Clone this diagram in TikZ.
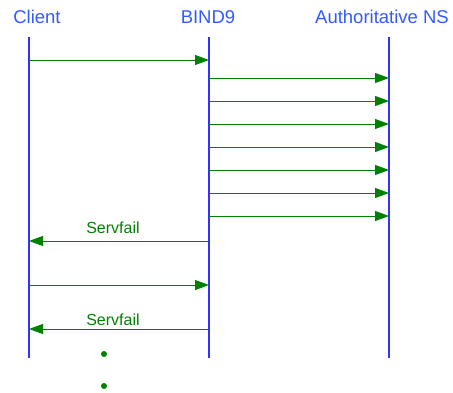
\documentclass[tikz,border=0pt]{standalone}
\usepackage{fontspec}
\setmainfont{Liberation Sans}
\usetikzlibrary{arrows.meta}
\definecolor{actorblue}{RGB}{50,90,255}
\definecolor{lifeblue}{RGB}{50,50,255}
\definecolor{msggreen}{RGB}{0,128,0}
\begin{document}
\begin{tikzpicture}[x=1pt,y=-1pt]
		\tikzstyle{actor} = [text=actorblue, font=\fontsize{18.5}{20}\selectfont, inner sep=0pt]
		\tikzstyle{life} = [draw=lifeblue, line width=1.15pt]
		\tikzstyle{msg} = [draw=msggreen, line width=1pt, -{Triangle[length=14pt,width=10pt]}]
		\tikzstyle{reply} = [text=msggreen, font=\fontsize{16}{18}\selectfont, inner sep=0pt]
		\useasboundingbox (0,0) rectangle (453,392);

		\node [actor] (client) at (37,17) {Client};
		\node [actor] (bind) at (208,17) {BIND9};
		\node [actor] (auth) at (382,17) {Authoritative NS};

		% lifelines
		\coordinate (ctop) at (29,37);   \coordinate (cbot) at (29,358);
		\coordinate (btop) at (209,37);  \coordinate (bbot) at (209,358);
		\coordinate (atop) at (389,37);  \coordinate (abot) at (389,358);
		\draw[life] (ctop) -- (cbot);
		\draw[life] (btop) -- (bbot);
		\draw[life] (atop) -- (abot);

		% first query
		\coordinate (c0) at (29,60); \coordinate (b0) at (209,60);
		\draw[msg] (c0) -- (b0);

		% retries towards the authoritative server
		\foreach \i in {0,...,6} {
			\coordinate (bq\i) at (209,78+23*\i);
			\coordinate (aq\i) at (389,78+23*\i);
			\draw[msg] (bq\i) -- (aq\i);
		}

		\coordinate (b1) at (209,241); \coordinate (c1) at (29,241);
		\draw[msg] (b1) -- (c1);
		\node [reply] (fail1) at (113,228) {Servfail};

		\coordinate (c2) at (29,285); \coordinate (b2) at (209,285);
		\draw[msg] (c2) -- (b2);

		\coordinate (b3) at (209,329); \coordinate (c3) at (29,329);
		\draw[msg] (b3) -- (c3);
		\node [reply] (fail2) at (113,320) {Servfail};

		% more to come
		\fill[msggreen] (104,354) circle (3) (104,386) circle (3);
	\end{tikzpicture}
\end{document}
